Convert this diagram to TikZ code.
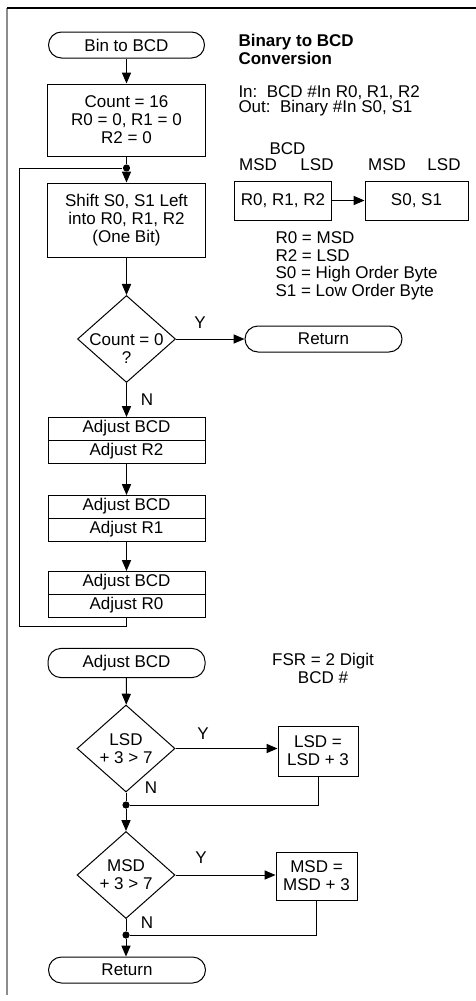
\documentclass[tikz,border=0pt]{standalone}
\usepackage{fontspec}
\setmainfont{Liberation Sans}
\usetikzlibrary{shapes.geometric,arrows.meta,positioning}

\begin{document}
\begin{tikzpicture}[
    x=0.5pt, y=-0.5pt,
    line width=0.5pt,
    >={Triangle[length=5.5pt,width=4.6pt]},
    every node/.style={font=\fontsize{8.5}{9}\selectfont},
    term/.style={draw, rectangle, rounded corners=6.5pt, minimum width=78.5pt, minimum height=13pt, text centered},
    box/.style={draw, rectangle, minimum width=79pt, text centered, align=center},
    part/.style={draw, rectangle, minimum width=78.5pt, minimum height=11.5pt, inner sep=0pt, outer sep=0pt},
    decision/.style={draw, diamond, minimum width=49pt, minimum height=43.5pt, inner sep=0pt},
    txt/.style={inner sep=0pt, align=left},
    junction/.style={circle, fill, inner sep=0pt, minimum size=3.6pt}
]
\useasboundingbox (0,0) rectangle (476,1001);
% frame
\draw[black!45, line width=0.9pt] (7,8) -- (7,995);
\draw[line width=0.6pt] (7,8) -- (476,8);

% main routine
\node (start) [term, minimum width=78pt] at (126.5,45) {Bin to BCD};
\node (init) [box, minimum height=36pt] at (126.5,120) {Count = 16\\R0 = 0, R1 = 0\\R2 = 0};
\node (loopdot) [junction] at (126.5,168) {};
\node (shift) [box, minimum height=37pt] at (126.5,220) {Shift S0, S1 Left\\into R0, R1, R2\\(One Bit)};
\node (cnt) [decision, label={[align=center, yshift=-5pt]center:Count = 0\\?}] at (126.5,339) {};
\node (ret) [term] at (323.5,339) {Return};
\node (cnty) at (200,323) {Y};
\node (cntn) at (147,400) {N};
\node (adjA) [part] at (126.5,428.5) {Adjust BCD};
\node (adjR2) [part, below=0pt of adjA] {Adjust R2};
\node (adjB) [part] at (126.5,506.5) {Adjust BCD};
\node (adjR1) [part, below=0pt of adjB] {Adjust R1};
\node (adjC) [part] at (126.5,582.5) {Adjust BCD};
\node (adjR0) [part, below=0pt of adjC] {Adjust R0};
\coordinate (loopend) at (19,626);

\draw[->] (start) -- (init);
\draw (init) -- (loopdot);
\draw[->] (loopdot) -- (shift);
\draw[->] (shift) -- (cnt);
\draw[->] (cnt) -- (ret);
\draw[->] (cnt) -- (adjA);
\draw[->] (adjR2) -- (adjB);
\draw[->] (adjR1) -- (adjC);
\draw (adjR0.south) |- (loopend) |- (loopdot);

% notes
\node (title) [txt, anchor=north west, font=\fontsize{8.5}{9.15}\selectfont\bfseries] at (238,33.5) {Binary to BCD\\Conversion};
\node (io) [txt, anchor=north west, font={\fontsize{8.5}{7.6}\selectfont\lineskiplimit-100pt\relax}] at (238,85) {In:\ \ BCD \#In R0, R1, R2\\Out:\ \ Binary \#In S0, S1};
\node (bcdlbl) [anchor=base, inner sep=0pt] at (287.5,154) {BCD};
\node (msda) [anchor=base, inner sep=0pt] at (258,170.5) {MSD};
\node (lsda) [anchor=base, inner sep=0pt] at (317,170.5) {LSD};
\node (msdb) [anchor=base, inner sep=0pt] at (387,170.5) {MSD};
\node (lsdb) [anchor=base, inner sep=0pt] at (444,170.5) {LSD};
\node (rbox) [box, minimum width=46pt, minimum height=19.5pt] at (283,200.5) {R0, R1, R2};
\node (sbox) [box, minimum width=51.5pt, minimum height=19.5pt] at (416.5,200.5) {S0, S1};
\draw[->] (rbox) -- (sbox);
\node (defs) [txt, anchor=north west, font=\fontsize{8.5}{8.9}\selectfont] at (275,231) {R0 = MSD\\R2 = LSD\\S0 = High Order Byte\\S1 = Low Order Byte};

% adjust routine
\node (adj) [term, minimum height=12pt] at (126.5,663) {Adjust BCD};
\node (fsr) [align=center, inner sep=0pt, anchor=north] at (323,652.5) {FSR = 2 Digit\\BCD \#};
\node (lsdq) [decision, label={[align=center]center:LSD\\+ 3 > 7}] at (126,748.5) {};
\node (lsdadd) [box, minimum width=40pt, minimum height=25pt] at (318,751) {LSD =\\LSD + 3};
\node (lsdy) at (203,734) {Y};
\node (lsdn) at (151,788) {N};
\node (lsddot) [junction] at (126,805) {};
\node (msdq) [decision, label={[align=center]center:MSD\\+ 3 > 7}] at (126,875) {};
\node (msdadd) [box, minimum width=40.5pt, minimum height=24pt] at (316.5,876) {MSD =\\MSD + 3};
\node (msdy) at (201,858) {Y};
\node (msdn) at (147,923) {N};
\node (msddot) [junction] at (126,935) {};
\node (done) [term] at (127,970) {Return};

\draw[->] (adj) -- (lsdq);
\draw[->] (lsdq.east) -- (lsdq.east -| lsdadd.west);
\draw (lsdq) -- (lsddot);
\draw (lsdadd.south) |- (lsddot);
\draw[->] (lsddot) -- (msdq);
\draw[->] (msdq.east) -- (msdq.east -| msdadd.west);
\draw (msdq) -- (msddot);
\draw (msdadd.south) |- (msddot);
\draw[->] (msddot) -- (done.north -| msddot);
\end{tikzpicture}
\end{document}
